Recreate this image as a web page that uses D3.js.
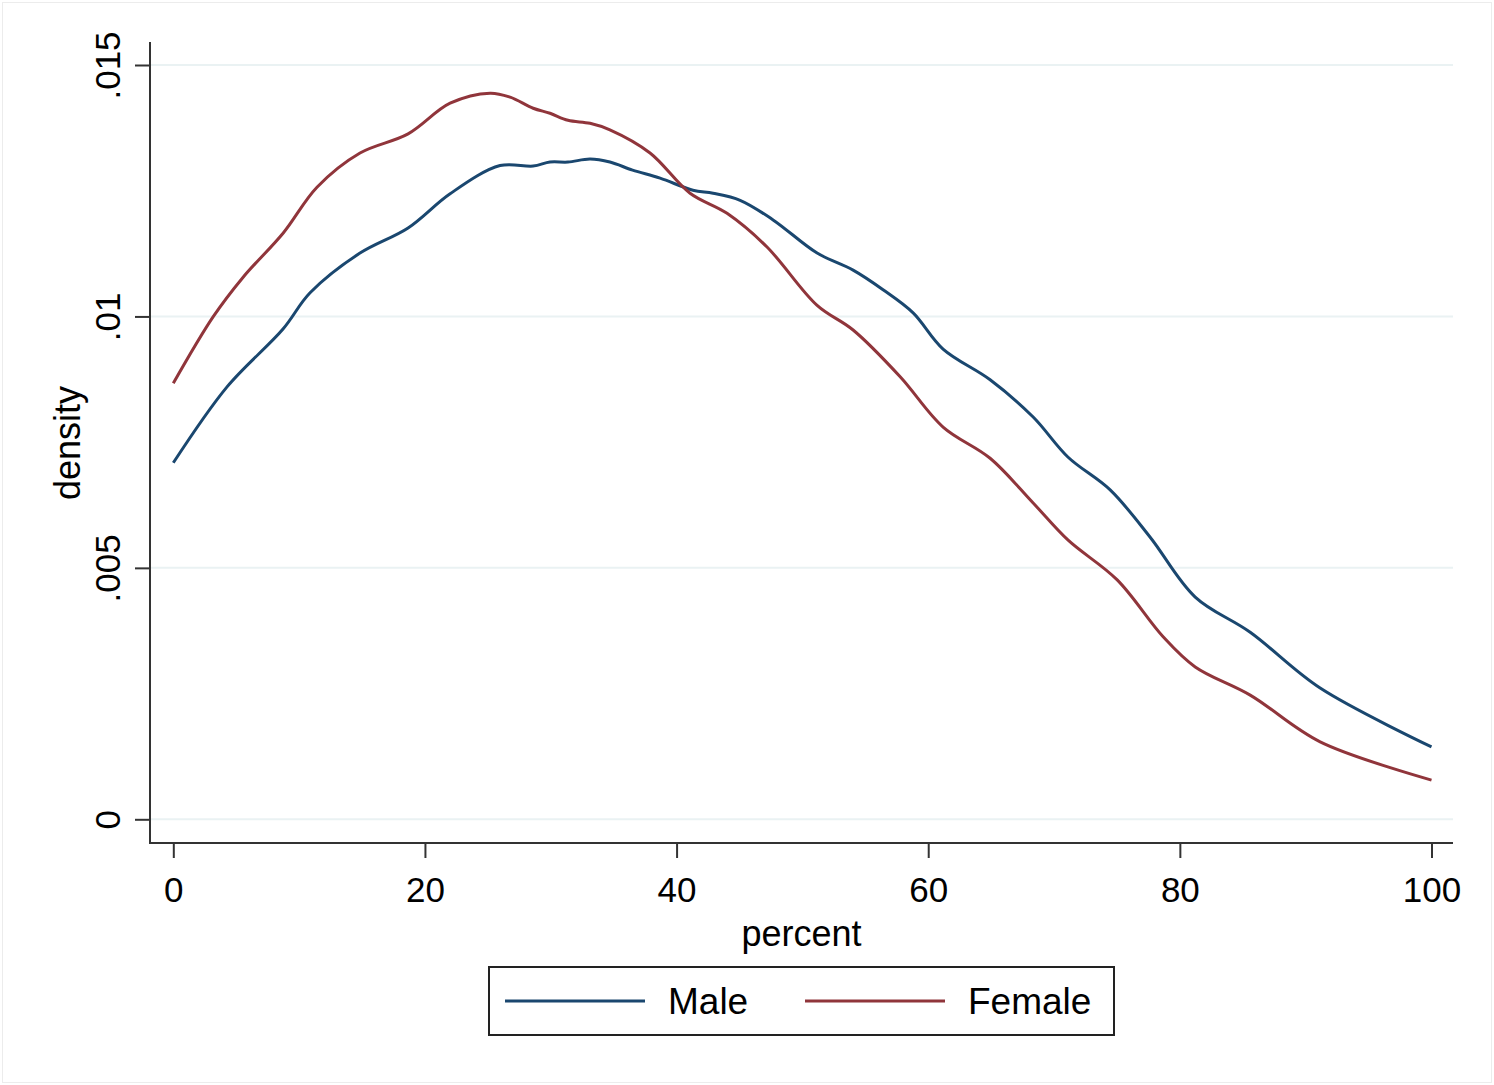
<!DOCTYPE html>
<head>
<meta charset="utf-8">
<title>Kernel density by sex</title>
<style>
body { margin: 0; background: #fff; }
svg text { font-family: Arial, "Liberation Sans", sans-serif; fill: #000; }
</style>
</head>

<div id="chart"></div>

<script src="https://cdn.jsdelivr.net/npm/d3@7"></script>
<script>
const maleX = [0, 4.27, 8.72, 10.87, 14.84, 18.66, 22.0, 25.97, 28.6, 29.94, 31.37, 33.12, 34.7, 36.5, 38.69,
	41.3, 42.9, 45.05, 47.67, 51.17, 54.03, 56.41, 58.8, 61.18, 64.92, 68.34, 71.12, 74.46, 77.64, 81.22,
	85.59, 91.15, 100];
const maleY = [0.00709, 0.00860, 0.00975, 0.01047, 0.01126, 0.01176, 0.01244, 0.01300, 0.01299, 0.01307,
	0.01307, 0.01313, 0.01307, 0.01291, 0.01275, 0.01251, 0.01245, 0.01231, 0.01192, 0.01126, 0.01092,
	0.01053, 0.01007, 0.00935, 0.00874, 0.00800, 0.00720, 0.00655, 0.00561, 0.00442, 0.00372, 0.00261, 0.00144];

const femaleX = [0, 3.16, 5.55, 8.74, 11.42, 14.84, 18.66, 22.0, 25.18, 26.77, 28.6, 29.94, 31.37, 33.12,
	34.7, 37.89, 41.07, 44.01, 47.19, 51.17, 54.03, 57.77, 61.18, 64.92, 68.34, 71.12, 75.02, 78.67, 81.22,
	85.59, 91.15, 100];
const femaleY = [0.00867, 0.00999, 0.01078, 0.01166, 0.01257, 0.01325, 0.01363, 0.01424, 0.01444, 0.01436,
	0.01414, 0.01404, 0.01390, 0.01384, 0.01371, 0.01325, 0.01245, 0.01205, 0.01138, 0.01022, 0.00973,
	0.00880, 0.00780, 0.00718, 0.00629, 0.00555, 0.00476, 0.00363, 0.00303, 0.00247, 0.00154, 0.00078];

const xTicks = [0, 20, 40, 60, 80, 100];
const yTicks = [0, 0.005, 0.01, 0.015];
const yTickLabels = ["0", ".005", ".01", ".015"];
const seriesNames = ["Male", "Female"];
const seriesColors = ["#1a476f", "#90353b"];

const W = 1494, H = 1085;
const frame = { left: 150, right: 1453, top: 42, bottom: 843 };

let svg, x, y;

drawChart();

function drawChart() {

	svg = d3.select("#chart").append("svg")
		.attr("width", W)
		.attr("height", H);

	// faint outer border
	svg.append("rect")
		.attr("x", 2.5).attr("y", 2.5)
		.attr("width", W - 5).attr("height", H - 5)
		.attr("fill", "#fff")
		.attr("stroke", "#ececec");

	x = d3.scaleLinear().domain([0, 100]).range([173.3, 1431.5]);
	y = d3.scaleLinear().domain([0, 0.015]).range([819.3, 65]);

	// grid lines
	svg.append("g").selectAll("line")
		.data(yTicks)
		.join("line")
		.attr("x1", frame.left).attr("x2", frame.right)
		.attr("y1", d => y(d)).attr("y2", d => y(d))
		.attr("stroke", "#eaf2f3")
		.attr("stroke-width", 2);

	drawAxes();
	drawLines();
	drawLegend();

} // @end drawChart()


//
// Axes, ticks and titles
//
function drawAxes() {

	const yAxis = svg.append("g")
		.attr("transform", `translate(${frame.left},0)`)
		.call(d3.axisLeft(y).tickValues(yTicks).tickSize(15).tickFormat((d, i) => yTickLabels[i]));
	yAxis.select(".domain").remove();
	yAxis.selectAll(".tick line").attr("stroke", "#333").attr("stroke-width", 2);
	yAxis.selectAll(".tick text")
		.attr("transform", "rotate(-90)")
		.attr("x", 0).attr("y", -30).attr("dy", 0)
		.attr("text-anchor", "middle")
		.style("font-size", "35px");

	const xAxis = svg.append("g")
		.attr("transform", `translate(0,${frame.bottom})`)
		.call(d3.axisBottom(x).tickValues(xTicks).tickSize(15).tickFormat(d3.format("d")));
	xAxis.select(".domain").remove();
	xAxis.selectAll(".tick line").attr("stroke", "#333").attr("stroke-width", 2);
	xAxis.selectAll(".tick text")
		.attr("y", 59).attr("dy", 0)
		.style("font-size", "35px");

	// frame lines (left and bottom)
	svg.append("path")
		.attr("d", `M${frame.left},${frame.top}V${frame.bottom}H${frame.right}`)
		.attr("fill", "none")
		.attr("stroke", "#333")
		.attr("stroke-width", 2);

	svg.append("text")
		.attr("x", (frame.left + frame.right) / 2)
		.attr("y", 946)
		.attr("text-anchor", "middle")
		.style("font-size", "36px")
		.text("percent");

	svg.append("text")
		.attr("transform", `translate(80,443) rotate(-90)`)
		.attr("text-anchor", "middle")
		.style("font-size", "36px")
		.text("density");

} // @end drawAxes()


//
// Density curves
//
function drawLines() {

	const line = d3.line()
		.x(d => x(d[0]))
		.y(d => y(d[1]))
		.curve(d3.curveCatmullRom.alpha(0.5));

	const series = [d3.zip(maleX, maleY), d3.zip(femaleX, femaleY)];

	svg.append("g").selectAll("path")
		.data(series)
		.join("path")
		.attr("d", line)
		.attr("fill", "none")
		.attr("stroke", (d, i) => seriesColors[i])
		.attr("stroke-width", 3)
		.attr("stroke-linejoin", "round");

} // @end drawLines()


//
// Legend box below the chart
//
function drawLegend() {

	const lg = svg.append("g").attr("transform", "translate(489,967)");

	lg.append("rect")
		.attr("width", 625).attr("height", 68)
		.attr("fill", "#fff")
		.attr("stroke", "#222")
		.attr("stroke-width", 2);

	const item = lg.selectAll("g.item")
		.data(seriesNames)
		.join("g")
		.attr("class", "item")
		.attr("transform", (d, i) => `translate(${16 + i * 300},34)`);

	item.append("line")
		.attr("x1", 0).attr("x2", 140)
		.attr("stroke", (d, i) => seriesColors[i])
		.attr("stroke-width", 3);

	item.append("text")
		.attr("x", 163).attr("y", 13)
		.style("font-size", "37px")
		.text(d => d);

} // @end drawLegend()
</script>
